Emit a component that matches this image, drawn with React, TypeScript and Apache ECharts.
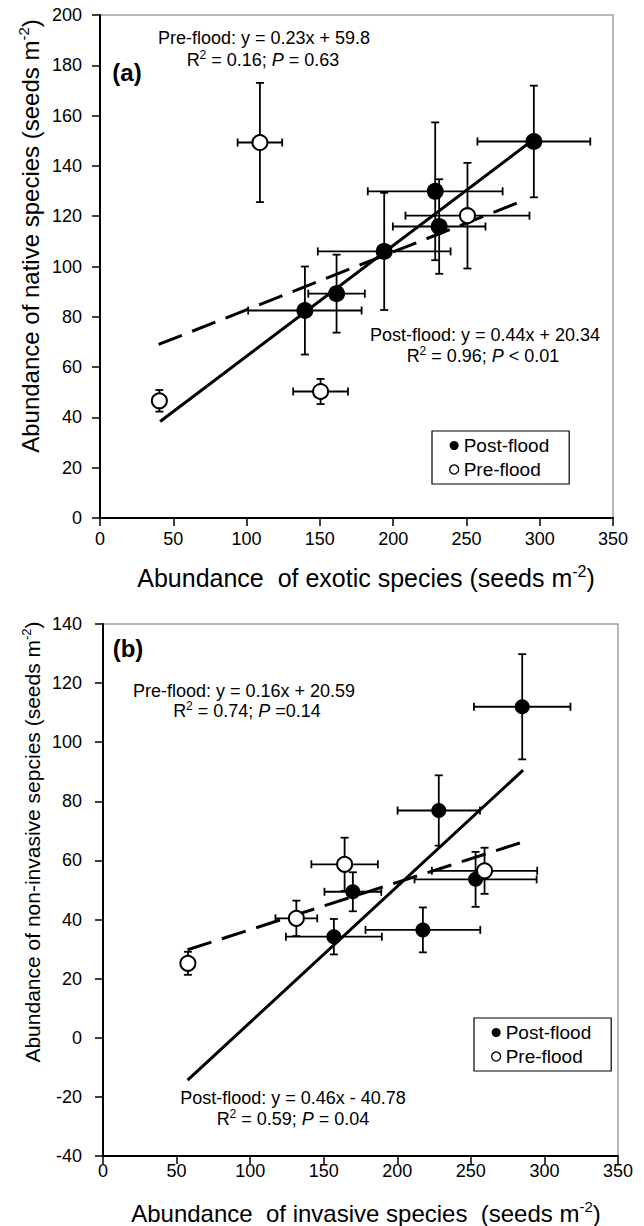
import React, { useEffect, useRef } from "react";
import * as echarts from "echarts";

const FONT = "Liberation Sans, Arial, Helvetica, sans-serif";

// ---------- Panel (a): exotic (x) vs native (y) ----------
const aPostX = [139.8, 161.4, 193.9, 228.7, 231.4, 296.0];
const aPostY = [82.5, 89.2, 106.0, 129.9, 115.9, 149.7];
const aPostXErr = [38.7, 19.3, 45.3, 46.0, 31.6, 38.5];
const aPostYErr = [17.5, 15.5, 23.3, 27.4, 18.8, 22.2];
const aPreX = [40.5, 109.1, 150.5, 250.7];
const aPreY = [46.6, 149.3, 50.3, 120.2];
const aPreXErr = [2, 15.2, 18.7, 42.3];
const aPreYErr = [4.3, 23.7, 5.0, 21.0];
// regression: [slope, intercept, xStart, xEnd]
const aPostFit = [0.44, 20.34, 41, 296];
const aPreFit = [0.23, 59.8, 40, 291];
const aXAxis = [0, 350, 50];
const aYAxis = [0, 200, 20];

// ---------- Panel (b): invasive (x) vs non-invasive (y) ----------
const bPostX = [156.9, 169.8, 217.4, 228.2, 253.2, 284.9];
const bPostY = [34.2, 49.4, 36.5, 76.9, 53.6, 112.0];
const bPostXErr = [32.6, 19.3, 39.0, 28.0, 41.5, 32.8];
const bPostYErr = [6.0, 6.6, 7.6, 11.9, 9.3, 17.8];
const bPreX = [57.7, 131.4, 164.2, 259.3];
const bPreY = [25.2, 40.4, 58.7, 56.5];
const bPreXErr = [2, 14.2, 22.6, 35.8];
const bPreYErr = [3.9, 6.0, 9.0, 7.8];
const bPostFit = [0.46, -40.78, 57.5, 285.5];
const bPreFit = [0.16, 20.59, 57.5, 285.5];
const bXAxis = [0, 350, 50];
const bYAxis = [-40, 140, 20];

const seriesNames = ["Post-flood", "Pre-flood"];

const fitPoints = (f: number[]) => [
  [f[2], f[0] * f[2] + f[1]],
  [f[3], f[0] * f[3] + f[1]],
];

const errData = (xs: number[], ys: number[], ex: number[], ey: number[]) =>
  xs.map((x, i) => [x, ys[i], ex[i], ey[i]]);

const errRender = (params: any, api: any) => {
  const x = api.value(0);
  const y = api.value(1);
  const ex = api.value(2);
  const ey = api.value(3);
  const l = api.coord([x - ex, y]);
  const r = api.coord([x + ex, y]);
  const t = api.coord([x, y + ey]);
  const b = api.coord([x, y - ey]);
  const cap = 4;
  const style = { stroke: "#000", lineWidth: 1.8, fill: null };
  const ln = (x1: number, y1: number, x2: number, y2: number) => ({
    type: "line",
    shape: { x1, y1, x2, y2 },
    style,
  });
  return {
    type: "group",
    children: [
      ln(l[0], l[1], r[0], r[1]),
      ln(l[0], l[1] - cap, l[0], l[1] + cap),
      ln(r[0], r[1] - cap, r[0], r[1] + cap),
      ln(t[0], t[1], b[0], b[1]),
      ln(t[0] - cap, t[1], t[0] + cap, t[1]),
      ln(b[0] - cap, b[1], b[0] + cap, b[1]),
    ],
  };
};

const makeAxis = (grid: number, r: number[], margin: number) => ({
  type: "value",
  gridIndex: grid,
  min: r[0],
  max: r[1],
  interval: r[2],
  splitLine: { show: false },
  axisLine: { show: true, onZero: false, lineStyle: { color: "#000", width: 2 } },
  axisTick: { show: true, inside: false, length: 8, lineStyle: { color: "#000", width: 1.5 } },
  axisLabel: { show: true, color: "#000", fontSize: 18, fontFamily: FONT, margin },
});

const panelSeries = (
  g: number,
  postX: number[], postY: number[], postEx: number[], postEy: number[],
  preX: number[], preY: number[], preEx: number[], preEy: number[],
  postFit: number[], preFit: number[],
  postSize: number, preSize: number
) => [
  {
    type: "custom",
    name: "err-post-" + g,
    xAxisIndex: g,
    yAxisIndex: g,
    renderItem: errRender,
    data: errData(postX, postY, postEx, postEy),
    z: 2,
  },
  {
    type: "custom",
    name: "err-pre-" + g,
    xAxisIndex: g,
    yAxisIndex: g,
    renderItem: errRender,
    data: errData(preX, preY, preEx, preEy),
    z: 2,
  },
  {
    type: "line",
    name: "fit-post-" + g,
    xAxisIndex: g,
    yAxisIndex: g,
    data: fitPoints(postFit),
    showSymbol: false,
    symbol: "none",
    lineStyle: { color: "#000", width: 3, type: "solid" },
    z: 3,
  },
  {
    type: "line",
    name: "fit-pre-" + g,
    xAxisIndex: g,
    yAxisIndex: g,
    data: fitPoints(preFit),
    showSymbol: false,
    symbol: "none",
    lineStyle: { color: "#000", width: 3, type: [25, 11], cap: "butt" },
    z: 3,
  },
  {
    type: "scatter",
    name: seriesNames[0],
    xAxisIndex: g,
    yAxisIndex: g,
    data: postX.map((x, i) => [x, postY[i]]),
    symbol: "circle",
    symbolSize: postSize,
    itemStyle: { color: "#000", borderColor: "#000", borderWidth: 0, opacity: 1 },
    z: 5,
  },
  {
    type: "scatter",
    name: seriesNames[1],
    xAxisIndex: g,
    yAxisIndex: g,
    data: preX.map((x, i) => [x, preY[i]]),
    symbol: "circle",
    symbolSize: preSize,
    itemStyle: { color: "#fff", borderColor: "#000", borderWidth: 2, opacity: 1 },
    z: 5,
  },
];

const annRich = {
  n: { fontSize: 18, fontFamily: FONT, fill: "#000", lineHeight: 22 },
  i: { fontSize: 18, fontFamily: FONT, fill: "#000", fontStyle: "italic", lineHeight: 22 },
  s: { fontSize: 12, fontFamily: FONT, fill: "#000", verticalAlign: "top", lineHeight: 12 },
};
const titleRich = (size: number) => ({
  n: { fontSize: size, fontFamily: FONT, fill: "#000", lineHeight: size + 4 },
  s: { fontSize: Math.round(size * 0.62), fontFamily: FONT, fill: "#000", verticalAlign: "top", lineHeight: Math.round(size * 0.62) },
});

const txt = (x: number, y: number, text: string, rich: any, extra: any = {}) => ({
  type: "text",
  x,
  y,
  z: 10,
  style: { text, rich, align: "center", verticalAlign: "middle", fill: "#000" },
  ...extra,
});

const legendCfg = (left: number, top: number) => ({
  orient: "vertical",
  left,
  top,
  padding: [5, 20, 5, 17],
  itemGap: 5,
  itemWidth: 9,
  itemHeight: 9,
  borderColor: "#000",
  borderWidth: 1.2,
  backgroundColor: "#fff",
  selectedMode: false,
  textStyle: { fontSize: 19, fontFamily: FONT, color: "#000" },
  data: [
    { name: seriesNames[0], itemStyle: { color: "#000", borderWidth: 0 } },
    { name: seriesNames[1], itemStyle: { color: "#fff", borderColor: "#000", borderWidth: 1.3 } },
  ],
});

const option: any = {
  animation: false,
  backgroundColor: "#fff",
  textStyle: { fontFamily: FONT },
  grid: [
    { left: 100, top: 15, width: 513, height: 503, show: true, borderColor: "#a0a0a0", borderWidth: 1.5, backgroundColor: "transparent" },
    { left: 103, top: 624, width: 515, height: 532, show: true, borderColor: "#a0a0a0", borderWidth: 1.5, backgroundColor: "transparent" },
  ],
  xAxis: [makeAxis(0, aXAxis, 12), makeAxis(1, bXAxis, 6)],
  yAxis: [makeAxis(0, aYAxis, 18), makeAxis(1, bYAxis, 21)],
  legend: [legendCfg(432, 431), legendCfg(474, 1018)],
  series: [
    ...panelSeries(0, aPostX, aPostY, aPostXErr, aPostYErr, aPreX, aPreY, aPreXErr, aPreYErr, aPostFit, aPreFit, 17, 15),
    ...panelSeries(1, bPostX, bPostY, bPostXErr, bPostYErr, bPreX, bPreY, bPreXErr, bPreYErr, bPostFit, bPreFit, 15, 15),
  ],
  graphic: [
    // panel letters
    { type: "text", x: 127, y: 72, z: 10, style: { text: "(a)", align: "center", verticalAlign: "middle", fill: "#000", fontSize: 24, fontWeight: "bold", fontFamily: FONT } },
    { type: "text", x: 128, y: 648, z: 10, style: { text: "(b)", align: "center", verticalAlign: "middle", fill: "#000", fontSize: 24, fontWeight: "bold", fontFamily: FONT } },
    // panel (a) annotations
    txt(264, 38, "{n|Pre-flood: y = 0.23x + 59.8}", annRich),
    txt(263, 60, "{n|R}{s|2}{n| = 0.16; }{i|P}{n| = 0.63}", annRich),
    txt(485, 335, "{n|Post-flood: y = 0.44x + 20.34}", annRich),
    txt(483, 356, "{n|R}{s|2}{n| = 0.96; }{i|P}{n| < 0.01}", annRich),
    // panel (b) annotations
    txt(244, 691, "{n|Pre-flood: y = 0.16x + 20.59}", annRich),
    txt(247, 711, "{n|R}{s|2}{n| = 0.74; }{i|P}{n| =0.14}", annRich),
    txt(293, 1098, "{n|Post-flood: y = 0.46x - 40.78}", annRich),
    txt(293, 1119, "{n|R}{s|2}{n| = 0.59; }{i|P}{n| = 0.04}", annRich),
    // axis titles
    txt(366, 578, "{n|Abundance  of exotic species (seeds m}{s|-2}{n|)}", titleRich(25)),
    txt(30, 236, "{n|Abundance of native species (seeds m}{s|-2}{n|)}", titleRich(24), { rotation: Math.PI / 2 }),
    txt(366, 1213, "{n|Abundance  of invasive species  (seeds m}{s|-2}{n|)}", titleRich(24)),
    txt(32, 842, "{n|Abundance of non-invasive sepcies (seeds m}{s|-2}{n|)}", titleRich(21), { rotation: Math.PI / 2 }),
  ],
};

export default function App() {
  const ref = useRef<HTMLDivElement>(null);
  useEffect(() => {
    if (!ref.current) return;
    const chart = echarts.init(ref.current, null, { renderer: "svg" });
    chart.setOption(option);
    return () => chart.dispose();
  }, []);
  return (
    <div
      ref={ref}
      style={{ position: "absolute", left: 0, top: 0, width: 644, height: 1226, background: "#fff" }}
    />
  );
}
